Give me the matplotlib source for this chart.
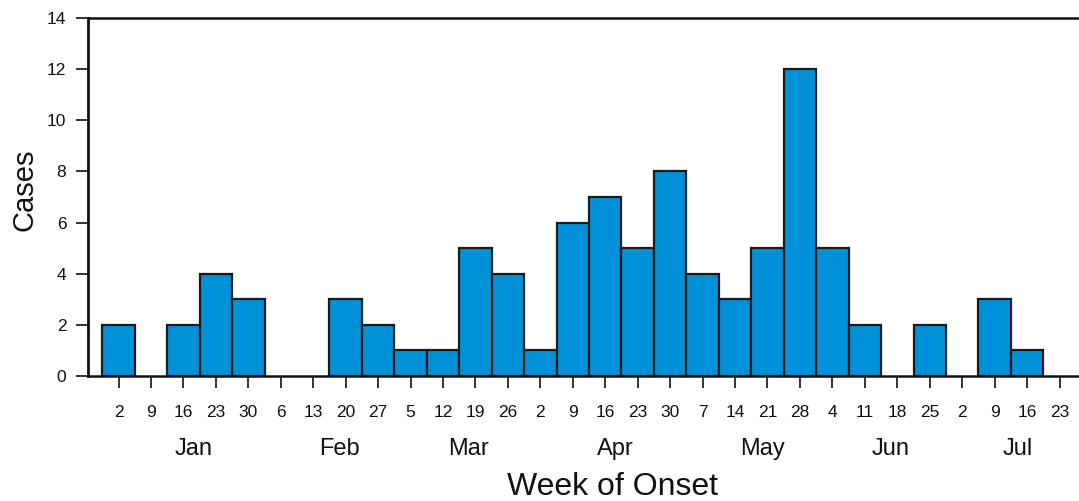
import numpy as np
import matplotlib.pyplot as plt

plt.rcParams['font.family'] = ['Liberation Sans', 'DejaVu Sans']

# week start days (ticks) and case counts
days = ["2", "9", "16", "23", "30",
        "6", "13", "20", "27",
        "5", "12", "19", "26",
        "2", "9", "16", "23", "30",
        "7", "14", "21", "28",
        "4", "11", "18", "25",
        "2", "9", "16", "23"]
cases = [2, 0, 2, 4, 3,
         0, 0, 3, 2,
         1, 1, 5, 4,
         1, 6, 7, 5, 8,
         4, 3, 5, 12,
         5, 2, 0, 2,
         0, 3, 1, 0]
months = ["Jan", "Feb", "Mar", "Apr", "May", "Jun", "Jul"]
month_pos = [2.3, 6.8, 10.8, 15.3, 19.85, 23.8, 27.7]

fig = plt.figure(figsize=(10.79, 5.01), dpi=100)
ax = fig.add_axes([88 / 1079, 125 / 501, 1 - 88 / 1079, 358 / 501])

x = np.arange(len(cases))
vals = np.array(cases)
mask = vals > 0
ax.bar(x[mask], vals[mask], width=1.0, color='#0091d9', edgecolor='#1a1a1a', linewidth=1.6)

ax.set_xlim(-0.94, 29.6)
ax.set_ylim(0, 14)
ax.set_yticks(range(0, 15, 2))
ax.set_xticks(x)
ax.set_xticklabels(days)

ax.spines['right'].set_visible(False)
ax.spines['left'].set_linewidth(2.0)
ax.spines['top'].set_linewidth(1.8)
ax.spines['bottom'].set_linewidth(1.8)
for s in ax.spines.values():
    s.set_color('#111111')

ax.tick_params(axis='x', length=8.6, width=1.2, pad=12, labelsize=12.5, colors='#111111')
ax.tick_params(axis='y', length=8.6, width=1.2, pad=7, labelsize=12.5, colors='#111111')

for m, p in zip(months, month_pos):
    ax.text(p, -0.205, m, transform=ax.get_xaxis_transform(), ha='center', va='center',
            fontsize=17, color='#111111')

ax.set_ylabel("Cases", fontsize=21, color='#111111')
ax.yaxis.set_label_coords(-0.05, 0.52)
fig.text(0.568, 0.027, "Week of Onset", ha='center', va='center', fontsize=23, color='#111111')

fig.savefig("out.png", dpi=100)
